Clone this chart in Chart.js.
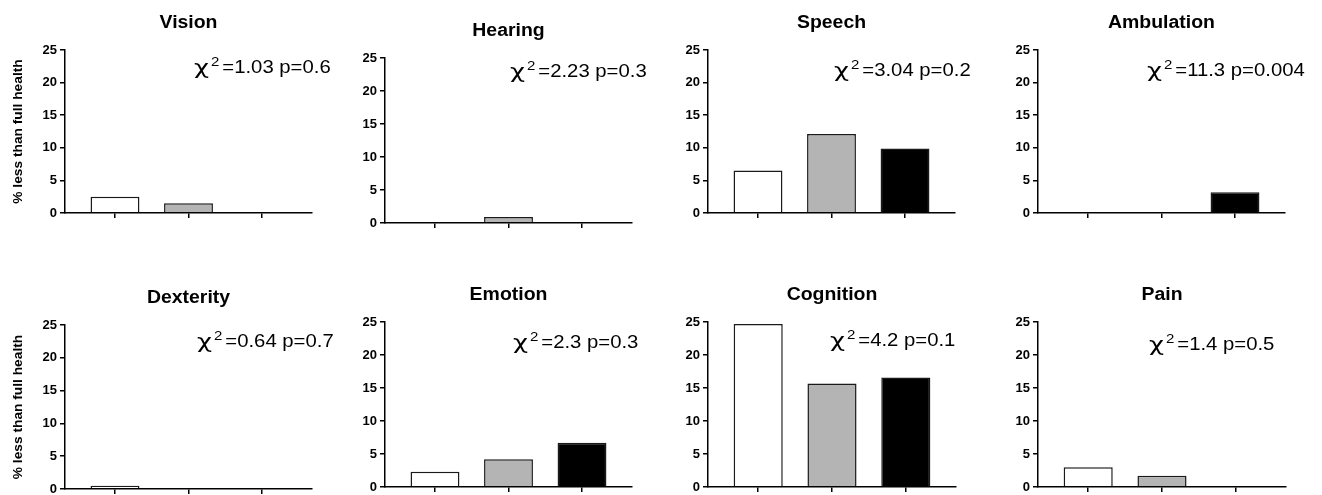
<!DOCTYPE html>
<html>
<head>
<meta charset="utf-8">
<title>Less than full health by domain</title>
<script src="https://cdn.jsdelivr.net/npm/chart.js@4.4.1/dist/chart.umd.min.js"></script>
<style>
  html, body { margin: 0; padding: 0; background: #fff; }
  #wrap { position: relative; width: 1322px; height: 495px; overflow: hidden; }
  #wrap canvas { position: absolute; }
</style>
</head>
<body>
<div id="wrap"></div>
<script>
const domains = ["Vision", "Hearing", "Speech", "Ambulation", "Dexterity", "Emotion", "Cognition", "Pain"];
const chiValues = ["1.03", "2.23", "3.04", "11.3", "0.64", "2.3", "4.2", "1.4"];
const pValues = ["0.6", "0.3", "0.2", "0.004", "0.7", "0.3", "0.1", "0.5"];

// three groups per panel: white, grey, black bars
const groupPositions = [1, 2, 3];
const whiteGroup = [2.5, 0, 6.5, 0, 0.5, 2.3, 24.7, 3.0];
const greyGroup = [1.5, 0.9, 12.1, 0, 0, 4.2, 15.7, 1.7];
const blackGroup = [0, 0, 9.9, 3.2, 0, 6.7, 16.6, 0];
const yTicks = [0, 5, 10, 15, 20, 25];

const yLabel = "% less than full health";

// plot area of each panel on the page: left, right, top, bottom
const plotBoxes = [
  [65, 312, 50, 213], [385, 632, 58, 223], [708, 955, 50, 213], [1038, 1285, 50, 213],
  [65, 312, 325, 489], [385, 632, 322, 487], [708, 956, 322, 487], [1038, 1286, 322, 487],
];
// where each chi-square note starts (left, baseline)
const notePos = [
  [194, 73], [510, 77], [834, 76], [1147, 76],
  [197, 347], [513, 348], [830, 346], [1149, 350],
];

const FONT = '"Liberation Sans", Arial, Helvetica, sans-serif';
const barFill = ["#ffffff", "#b4b4b4", "#000000"];
const PAD_L = 60, PAD_T = 50, PAD_R = 30, PAD_B = 25;

Chart.defaults.font.family = FONT;
Chart.defaults.color = "#000";

// titles, chi-square notes and the y label
const panelText = {
  id: "panelText",
  afterDraw(chart, args, opts) {
    const { ctx, chartArea: a } = chart;
    ctx.save();
    ctx.fillStyle = "#000";
    ctx.textBaseline = "alphabetic";

    ctx.save();
    ctx.translate((a.left + a.right) / 2, a.top - 22);
    ctx.scale(1.08, 1);
    ctx.font = "bold 18px " + FONT;
    ctx.textAlign = "center";
    ctx.fillText(opts.title, 0, 0);
    ctx.restore();

    ctx.save();
    ctx.translate(opts.noteX, opts.noteY);
    ctx.textAlign = "left";
    ctx.font = '19px "DejaVu Sans", sans-serif';
    const cw = ctx.measureText("χ").width;
    ctx.save();
    ctx.scale(15 / cw, 1);
    ctx.fillText("χ", 0, 1);
    ctx.restore();
    ctx.save();
    ctx.translate(17, -7.5);
    ctx.scale(1.2, 1);
    ctx.font = "12.5px " + FONT;
    ctx.fillText("2", 0, 0);
    ctx.restore();
    ctx.scale(1.16, 1);
    ctx.font = "17.5px " + FONT;
    ctx.fillText("=" + opts.chi + " p=" + opts.p, 24.4, 0);
    ctx.restore();

    if (opts.yLabel) {
      ctx.save();
      ctx.translate(a.left - 43.5, (a.top + a.bottom) / 2);
      ctx.rotate(-Math.PI / 2);
      ctx.scale(1.1, 1);
      ctx.font = "bold 12.5px " + FONT;
      ctx.textAlign = "center";
      ctx.fillText(opts.yLabel, 0, 0);
      ctx.restore();
    }
    ctx.restore();
  },
};

const wrap = document.getElementById("wrap");

domains.forEach((name, i) => {
  const [L, R, T, B] = plotBoxes[i];
  const w = R - L + PAD_L + PAD_R;
  const h = B - T + PAD_T + PAD_B;
  const left = L - PAD_L, top = T - PAD_T;

  const canvas = document.createElement("canvas");
  canvas.width = w;
  canvas.height = h;
  canvas.style.left = left + "px";
  canvas.style.top = top + "px";
  canvas.style.width = w + "px";
  canvas.style.height = h + "px";
  wrap.appendChild(canvas);

  new Chart(canvas, {
    type: "bar",
    data: {
      labels: groupPositions,
      datasets: [
        {
          data: [whiteGroup[i], greyGroup[i], blackGroup[i]],
          backgroundColor: barFill,
          borderColor: "#1a1a1a",
          borderWidth: 1.5,
          borderSkipped: "start",
          categoryPercentage: 1,
          barPercentage: 0.665,
        },
      ],
    },
    options: {
      responsive: false,
      animation: false,
      layout: { padding: { left: PAD_L - 40, top: PAD_T, right: PAD_R, bottom: 0 } },
      scales: {
        x: {
          type: "linear",
          offset: false,
          min: 0.32,
          max: 3.68,
          afterBuildTicks: (s) => { s.ticks = groupPositions.map((v) => ({ value: v })); },
          afterFit: (s) => { s.height = PAD_B; },
          ticks: { callback: () => "", includeBounds: false },
          grid: { offset: false, drawOnChartArea: false, tickLength: 5, color: "#000", lineWidth: 1.5 },
          border: { display: true, color: "#000", width: 1.5, z: 1 },
        },
        y: {
          min: 0,
          max: 25,
          afterBuildTicks: (s) => { s.ticks = yTicks.map((v) => ({ value: v })); },
          afterFit: (s) => { s.width = 40; },
          ticks: { font: { size: 13, weight: "bold" }, padding: 3, color: "#000" },
          grid: { drawOnChartArea: false, tickLength: 5, color: "#000", lineWidth: 1.5 },
          border: { display: true, color: "#000", width: 1.5, z: 1 },
        },
      },
      plugins: {
        legend: { display: false },
        title: { display: false },
        tooltip: { enabled: false },
        panelText: {
          title: name,
          chi: chiValues[i],
          p: pValues[i],
          noteX: notePos[i][0] - left,
          noteY: notePos[i][1] - top,
          yLabel: i % 4 === 0 ? yLabel : null,
        },
      },
    },
    plugins: [panelText],
  });
});
</script>
</body>
</html>
